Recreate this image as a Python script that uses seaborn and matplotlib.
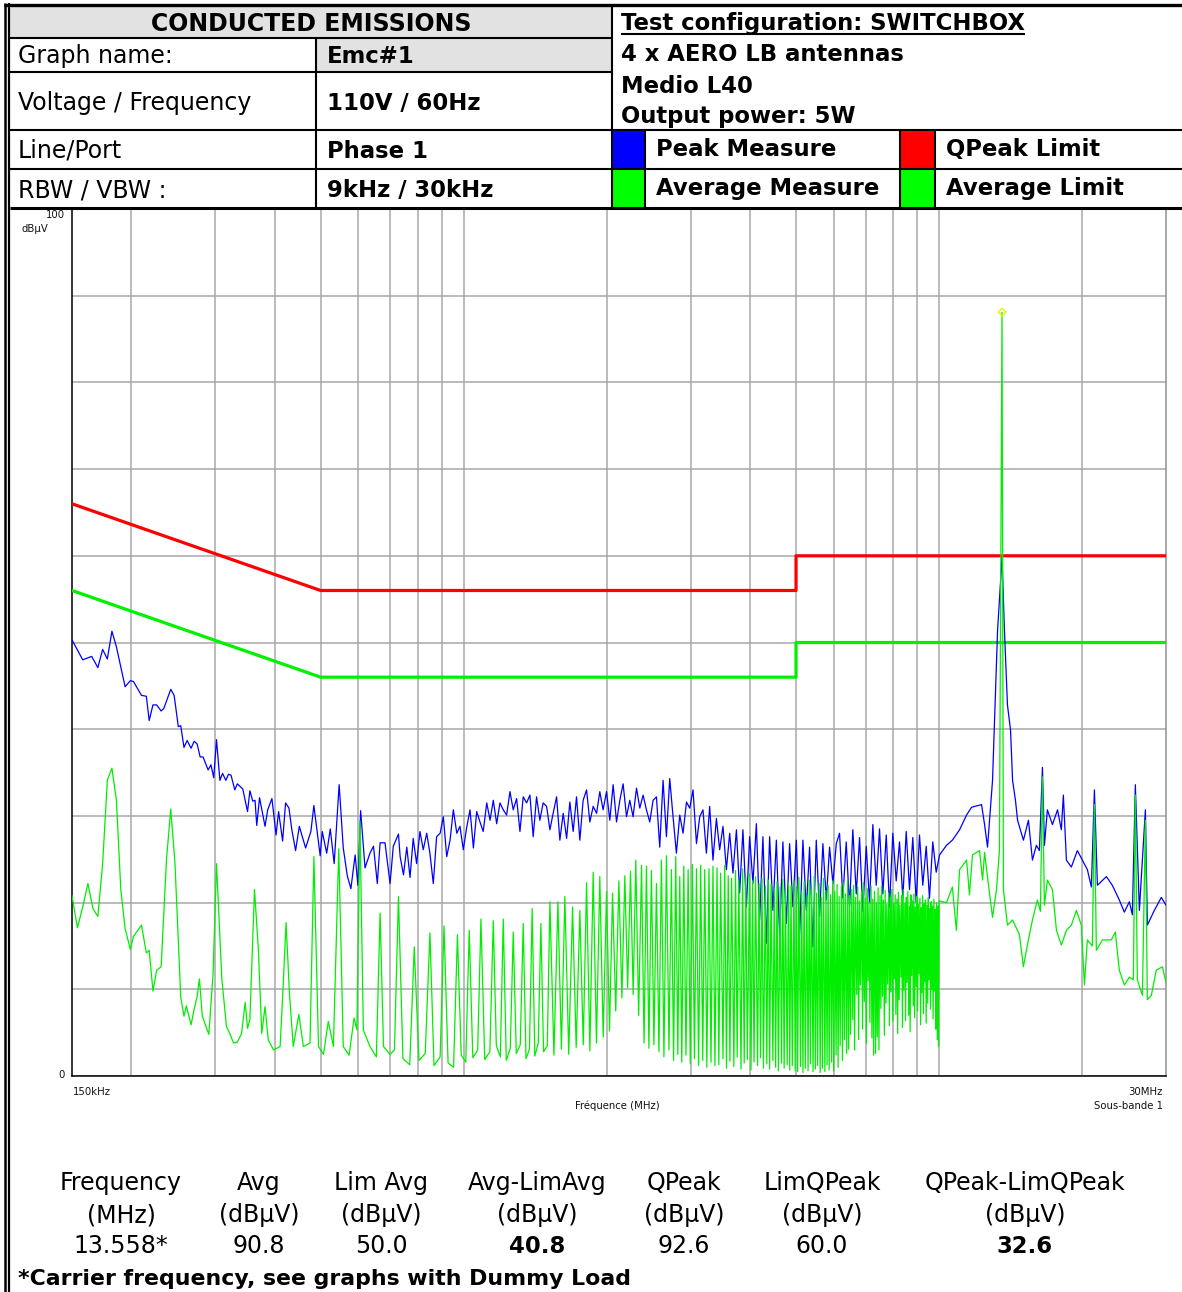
import matplotlib
matplotlib.use("Agg")
import matplotlib.pyplot as plt
import seaborn as sns
import pandas as pd
from matplotlib.patches import Rectangle
from matplotlib.lines import Line2D
from matplotlib.ticker import FixedLocator, NullFormatter

# ---------------- data ----------------
# CISPR limit lines
qpeak_limit_freq_mhz = [0.15, 0.5, 5.0, 5.0, 30.0]
qpeak_limit_dbuv = [66.0, 56.0, 56.0, 60.0, 60.0]
avg_limit_freq_mhz = [0.15, 0.5, 5.0, 5.0, 30.0]
avg_limit_dbuv = [56.0, 46.0, 46.0, 50.0, 50.0]

# Peak measure (blue)
peak_f1 = [0.150, 0.158, 0.165, 0.170, 0.174, 0.178, 0.182, 0.186, 0.194, 0.199,
           0.202, 0.210, 0.215, 0.218, 0.222, 0.226, 0.231, 0.234, 0.242, 0.246,
           0.251, 0.254, 0.258, 0.262, 0.267, 0.271, 0.275, 0.279, 0.283, 0.290,
           0.294, 0.298, 0.302, 0.307, 0.311, 0.316, 0.320, 0.324, 0.330, 0.334]
peak_db1 = [50.3, 48.0, 48.4, 47.1, 49.2, 48.1, 51.3, 49.5, 44.9, 45.6,
            45.5, 43.9, 43.8, 41.0, 42.8, 42.8, 42.1, 42.4, 44.6, 43.9,
            40.3, 40.4, 37.9, 38.7, 37.8, 38.6, 38.3, 36.8, 36.8, 35.3,
            35.9, 34.4, 38.8, 34.1, 34.9, 34.1, 34.8, 34.7, 33.0, 33.7]
peak_f2 = [0.343, 0.351, 0.355, 0.360, 0.364, 0.367, 0.372, 0.382, 0.387, 0.395,
           0.403, 0.408, 0.416, 0.422, 0.429, 0.435, 0.443, 0.451, 0.465, 0.477,
           0.484, 0.499, 0.504, 0.515, 0.524, 0.534, 0.547, 0.558, 0.569, 0.579,
           0.591, 0.599, 0.607, 0.620, 0.635, 0.646, 0.658, 0.667, 0.683, 0.700,
           0.711, 0.729]
peak_db2 = [33.1, 30.5, 32.9, 31.7, 31.8, 28.9, 32.1, 28.8, 30.7, 32.0,
            27.8, 30.5, 27.1, 31.5, 30.9, 28.4, 26.0, 28.8, 26.3, 28.2,
            31.2, 25.4, 28.2, 25.7, 28.5, 24.5, 33.6, 26.3, 23.1, 21.6,
            25.5, 22.0, 30.6, 24.0, 25.7, 26.5, 22.2, 26.9, 26.9, 22.2,
            26.5, 27.9]
peak_f3 = [0.735, 0.747, 0.759, 0.771, 0.783, 0.796,
           0.809, 0.822, 0.836, 0.849, 0.863, 0.877,
           0.892, 0.906, 0.921, 0.936, 0.951, 0.967,
           0.982, 0.998, 1.014, 1.031, 1.048, 1.065,
           1.082, 1.099, 1.118, 1.136, 1.154, 1.173,
           1.192, 1.211, 1.231, 1.251, 1.271, 1.292,
           1.313, 1.334, 1.356, 1.378, 1.400, 1.423,
           1.446, 1.469, 1.494, 1.518, 1.542, 1.568,
           1.593, 1.619, 1.646, 1.672, 1.699, 1.727,
           1.755, 1.783, 1.813, 1.842, 1.872, 1.903]
peak_db3 = [25.3, 23.2, 26.4, 22.9, 27.4, 24.5,
            28.2, 26.1, 28.0, 25.7, 22.2, 27.6,
            28.0, 29.9, 25.3, 27.2, 30.7, 28.0,
            28.8, 26.1, 28.6, 30.7, 26.3, 30.5,
            29.3, 28.2, 31.5, 29.5, 31.8, 29.1,
            31.5, 30.7, 30.1, 32.8, 30.7, 32.0,
            28.2, 32.2, 31.5, 32.4, 27.6, 32.2,
            29.5, 31.5, 31.1, 28.4, 30.3, 32.2,
            27.2, 30.3, 27.4, 31.6, 28.2, 32.2,
            27.2, 31.8, 33.0, 29.3, 31.1, 30.3]
peak_f4 = [1.933, 1.964, 1.997, 2.029, 2.062, 2.096,
           2.130, 2.164, 2.200, 2.235, 2.271, 2.309,
           2.346, 2.384, 2.423, 2.462, 2.502, 2.543,
           2.584, 2.626, 2.669, 2.712, 2.756, 2.801,
           2.847, 2.893, 2.941, 2.988, 3.036, 3.087,
           3.136, 3.186, 3.239, 3.291, 3.344, 3.400,
           3.454, 3.510, 3.568, 3.626, 3.684, 3.746,
           3.805, 3.866, 3.931, 3.994, 4.058, 4.126,
           4.192, 4.259, 4.330, 4.400, 4.471, 4.545,
           4.618, 4.692, 4.770, 4.847, 4.925, 5.007]
peak_db4 = [32.8, 30.7, 32.8, 29.5, 33.6, 29.3,
            31.8, 33.7, 29.9, 31.8, 29.9, 33.2,
            30.9, 32.4, 30.7, 29.3, 31.8, 32.2,
            26.4, 34.1, 27.6, 34.3, 29.9, 25.7,
            30.1, 28.0, 31.6, 30.9, 33.0, 26.8,
            29.9, 30.7, 25.7, 31.1, 24.9, 29.7,
            26.1, 28.8, 23.8, 28.0, 23.4, 28.4,
            21.1, 28.4, 19.5, 27.6, 22.2, 29.1,
            18.0, 27.6, 15.3, 27.6, 19.1, 27.2,
            16.1, 27.0, 17.6, 26.8, 19.5, 27.2]
peak_f5 = [5.087, 5.169, 5.255, 5.339, 5.425, 5.515,
           5.604, 5.694, 5.789, 5.882, 5.977, 6.076,
           6.173, 6.272, 6.376, 6.479, 6.583, 6.693,
           6.801, 6.910, 7.025, 7.138, 7.253, 7.373,
           7.492, 7.613, 7.739, 7.863, 7.990, 8.122,
           8.253, 8.386, 8.525, 8.662, 8.801, 8.948,
           9.092, 9.238, 9.392, 9.542, 9.696, 9.857]
peak_db5 = [16.2, 27.2, 19.1, 26.4, 14.9, 27.2,
            18.4, 26.8, 20.3, 26.4, 22.2, 26.8,
            28.0, 20.5, 27.0, 19.5, 28.4, 21.0,
            27.5, 19.0, 26.5, 20.0, 29.0, 22.0,
            28.5, 21.0, 27.8, 19.5, 28.0, 22.5,
            27.0, 20.5, 28.2, 21.5, 27.5, 20.0,
            27.8, 22.0, 26.5, 20.5, 27.0, 23.5]
peak_f6 = [10.02, 10.36, 10.66, 11.04, 11.42, 11.70, 12.28, 12.46, 12.64, 12.95,
           13.27, 13.558, 13.72, 13.92, 14.13, 14.27, 14.47, 14.62, 15.04, 15.41,
           15.48, 15.71, 16.01, 16.25, 16.49, 16.65, 16.89, 17.31, 17.74, 18.07,
           18.25, 18.52, 18.97, 19.53, 20.01, 20.50, 20.90, 21.21, 21.52, 22.48,
           23.13, 23.93, 24.52, 25.12, 25.49, 25.86, 26.37, 27.15, 27.41, 28.35,
           29.33, 30.0]
peak_db6 = [25.5, 26.6, 27.2, 28.4, 30.1, 31.0, 31.3, 29.0, 26.4, 34.1,
            51.4, 59.8, 51.4, 42.8, 39.9, 34.1, 31.8, 29.5, 27.2, 29.5,
            28.4, 24.9, 26.6, 26.0, 35.6, 26.6, 30.7, 29.0, 30.7, 28.4,
            32.4, 24.9, 24.1, 26.0, 24.9, 23.8, 21.8, 33.0, 22.0, 23.0,
            22.0, 20.3, 18.9, 20.1, 18.6, 33.6, 19.1, 30.7, 17.4, 19.1,
            20.6, 19.7]

# Average measure (green)
avg_f1 = [0.150, 0.154, 0.158, 0.162, 0.166, 0.170, 0.174, 0.178, 0.182, 0.186,
          0.190, 0.194, 0.199, 0.202, 0.210, 0.215, 0.218, 0.222, 0.226, 0.231,
          0.234, 0.237, 0.242, 0.247, 0.254, 0.258, 0.261, 0.267, 0.271, 0.275,
          0.278, 0.282, 0.291, 0.297, 0.302, 0.310, 0.317, 0.322, 0.328, 0.334]
avg_db1 = [20.8, 17.1, 19.5, 22.2, 19.3, 18.4, 24.5, 34.1, 35.5, 31.8,
           21.5, 17.0, 14.6, 16.1, 17.4, 14.2, 14.5, 9.8, 12.2, 12.6,
           18.8, 24.9, 30.8, 24.5, 9.1, 6.9, 8.1, 5.9, 7.7, 9.2,
           11.2, 6.9, 4.8, 11.8, 24.5, 11.1, 5.7, 4.9, 3.8, 3.9]
avg_f2 = [0.341, 0.347, 0.351, 0.355, 0.363, 0.370, 0.376, 0.382, 0.388, 0.398,
          0.411, 0.417, 0.423, 0.430, 0.438, 0.450, 0.460, 0.475, 0.484, 0.495,
          0.507, 0.519, 0.532, 0.546, 0.558, 0.574, 0.588, 0.596, 0.605, 0.615,
          0.635, 0.655, 0.667, 0.678, 0.700, 0.715, 0.729]
avg_db2 = [4.9, 8.5, 5.5, 6.5, 21.5, 14.5, 4.9, 8.0, 4.2, 3.0,
           3.4, 10.3, 17.7, 9.5, 3.4, 7.1, 3.4, 3.8, 25.3, 3.4,
           2.5, 6.3, 3.4, 26.2, 3.4, 2.4, 6.7, 5.3, 29.4, 5.3,
           3.4, 2.2, 18.8, 3.4, 2.5, 3.0, 20.7]
avg_f3 = [0.745, 0.770, 0.787, 0.805, 0.830, 0.849,
          0.866, 0.892, 0.909, 0.927, 0.952, 0.970,
          0.988, 1.010, 1.027, 1.045, 1.070, 1.087,
          1.107, 1.135, 1.154, 1.171, 1.194, 1.211,
          1.229, 1.253, 1.271, 1.290, 1.315, 1.334,
          1.352, 1.375, 1.393, 1.411, 1.435, 1.453,
          1.472, 1.499, 1.518]
avg_db3 = [2.0, 1.3, 14.9, 1.8, 2.6, 16.5,
           1.2, 2.2, 17.3, 1.5, 1.0, 16.3,
           2.4, 1.6, 16.8, 2.1, 3.0, 18.1,
           1.9, 2.8, 17.9, 3.5, 2.2, 18.1,
           1.8, 3.2, 16.6, 2.6, 3.6, 17.6,
           2.0, 3.1, 19.3, 2.3, 3.8, 17.6,
           2.8, 3.5, 20.1]
avg_f4 = [1.548, 1.578, 1.605, 1.632, 1.663, 1.694, 1.724, 1.755,
          1.784, 1.813, 1.842, 1.872, 1.902, 1.933, 1.965, 1.997,
          2.026, 2.056, 2.088, 2.120, 2.151, 2.182, 2.212, 2.243,
          2.272, 2.301, 2.333, 2.366, 2.395, 2.423, 2.452, 2.482,
          2.512, 2.543, 2.574, 2.605, 2.637, 2.669, 2.702, 2.734,
          2.763, 2.792, 2.820, 2.847, 2.875, 2.903, 2.934, 2.965,
          2.996, 3.027, 3.057, 3.087, 3.119, 3.151, 3.182, 3.213,
          3.246, 3.280, 3.312, 3.344, 3.376]
avg_db4 = [2.4, 20.1, 3.1, 20.7, 2.5, 19.5, 3.3, 19.1,
           3.6, 22.3, 2.9, 23.5, 3.8, 23.0, 4.5, 21.3,
           5.2, 21.1, 7.5, 22.5, 9.0, 23.1, 10.2, 23.6,
           9.4, 24.9, 7.0, 24.3, 3.8, 24.2, 3.2, 23.7,
           3.6, 22.2, 2.8, 24.9, 2.2, 25.4, 3.0, 23.8,
           1.8, 25.3, 2.5, 23.0, 1.6, 24.2, 2.4, 23.8,
           1.4, 24.4, 2.0, 23.9, 1.2, 24.3, 1.8, 23.8,
           1.0, 23.9, 1.6, 24.2, 1.2]
avg_f5 = [3.41, 3.44, 3.47, 3.51, 3.54, 3.57, 3.60, 3.63, 3.66, 3.70,
          3.73, 3.76, 3.79, 3.83, 3.86, 3.89, 3.92, 3.95, 3.99, 4.02,
          4.05, 4.08, 4.11, 4.15, 4.18, 4.21, 4.24, 4.27, 4.31, 4.34,
          4.37, 4.40, 4.43, 4.47, 4.50, 4.53, 4.56, 4.59, 4.63, 4.66,
          4.69, 4.72, 4.75, 4.79, 4.82, 4.85, 4.88, 4.91, 4.95, 4.98]
avg_db5 = [24.0, 1.3, 23.4, 2.0, 24.3, 0.9, 23.1, 1.7, 22.8, 1.1,
           23.7, 2.2, 22.6, 0.8, 23.9, 1.5, 22.9, 1.9, 23.3, 0.7,
           22.5, 1.6, 23.0, 1.2, 22.2, 2.1, 22.8, 0.9, 21.9, 1.4,
           22.6, 0.8, 22.1, 1.8, 21.6, 1.0, 22.4, 0.6, 21.8, 1.5,
           22.7, 0.9, 21.5, 1.3, 22.3, 0.7, 21.9, 1.2, 22.5, 0.6]
avg_f6 = [5.01, 5.04, 5.07, 5.11, 5.14, 5.17, 5.20, 5.23, 5.27, 5.30,
          5.33, 5.36, 5.39, 5.43, 5.46, 5.49, 5.52, 5.55, 5.59, 5.62,
          5.65, 5.68, 5.71, 5.75, 5.78, 5.81, 5.84, 5.87, 5.91, 5.94,
          5.97, 6.00, 6.03, 6.07, 6.10, 6.13, 6.16, 6.19, 6.23, 6.26,
          6.29, 6.32, 6.35, 6.39, 6.42, 6.45, 6.48, 6.51]
avg_db6 = [21.8, 0.5, 22.9, 1.1, 21.2, 0.4, 22.4, 0.9, 20.8, 0.6,
           22.6, 1.4, 21.5, 0.5, 23.0, 0.8, 21.1, 1.2, 22.2, 0.4,
           20.6, 0.9, 22.8, 0.5, 21.4, 1.3, 22.0, 0.7, 20.9, 1.6,
           22.5, 0.6, 21.3, 2.4, 22.1, 1.0, 20.7, 3.5, 21.9, 1.8,
           22.3, 4.2, 21.0, 2.6, 22.6, 3.1, 20.8, 4.8]
avg_f7 = [6.55, 6.58, 6.61, 6.64, 6.67, 6.71, 6.74, 6.77, 6.80, 6.83,
          6.87, 6.90, 6.93, 6.96, 6.99, 7.03, 7.06, 7.09, 7.12, 7.15,
          7.19, 7.22, 7.25, 7.28, 7.31, 7.35, 7.38, 7.41, 7.44, 7.47,
          7.51, 7.54, 7.57, 7.60, 7.63, 7.67, 7.70, 7.73, 7.76, 7.79,
          7.83, 7.86, 7.89, 7.92, 7.95, 7.99, 8.02, 8.05, 8.08, 8.11]
avg_db7 = [21.5, 6.5, 22.0, 3.0, 20.6, 9.4, 21.8, 4.2, 20.2, 10.5,
           21.2, 5.4, 22.3, 8.6, 20.5, 3.8, 21.6, 11.0, 20.1, 6.2,
           21.9, 4.4, 20.4, 2.4, 21.3, 2.6, 20.0, 4.5, 21.7, 3.0,
           20.8, 7.8, 21.9, 9.2, 20.3, 4.7, 21.4, 8.4, 19.8, 10.6,
           21.1, 5.8, 20.6, 9.7, 21.5, 6.3, 19.9, 11.2, 20.9, 7.1]
avg_f8 = [8.15, 8.18, 8.21, 8.24, 8.27, 8.31, 8.34, 8.37, 8.40, 8.43,
          8.47, 8.50, 8.53, 8.56, 8.59, 8.63, 8.66, 8.69, 8.72, 8.75,
          8.79, 8.82, 8.85, 8.88, 8.91, 8.95, 8.98, 9.01, 9.04, 9.07,
          9.11, 9.14, 9.17, 9.20, 9.23, 9.27, 9.30, 9.33, 9.36, 9.39,
          9.43, 9.46, 9.49, 9.52, 9.55, 9.59, 9.62, 9.65, 9.68, 9.71,
          9.75, 9.78, 9.81, 9.84, 9.87, 9.91, 9.94, 9.97, 10.00]
avg_db8 = [20.4, 4.9, 21.2, 8.8, 19.7, 11.4, 20.8, 5.6, 21.5, 9.9,
           19.9, 6.4, 20.6, 10.8, 21.3, 7.0, 19.6, 5.1, 20.9, 11.6,
           20.2, 8.1, 21.0, 6.7, 19.5, 10.3, 20.7, 7.5, 19.8, 11.8,
           20.5, 5.9, 19.4, 9.6, 20.8, 7.2, 19.9, 10.9, 20.3, 6.1,
           19.7, 8.4, 20.6, 11.1, 19.3, 7.7, 20.1, 10.0, 19.6, 6.6,
           20.4, 9.8, 19.2, 5.4, 20.0, 4.2, 19.6, 3.4, 20.2]
avg_f9 = [10.36, 10.66, 10.87, 11.04, 11.42, 11.58, 11.75, 12.16, 12.34, 12.46,
          12.70, 12.95, 13.20, 13.39, 13.558, 13.65, 13.92, 14.27, 14.75, 15.04,
          15.33, 15.71, 16.09, 16.33, 16.49, 16.65, 16.89, 17.31, 17.65, 18.07,
          18.52, 18.97, 19.44, 19.91, 20.21, 20.50, 21.00, 21.21, 21.41, 22.05,
          23.02, 23.47, 23.93, 24.52, 25.12, 25.61, 25.86, 26.11, 26.76, 27.15,
          27.41, 27.94, 28.62, 29.47, 30.0]
avg_db9 = [20.0, 21.8, 16.8, 23.8, 24.9, 20.9, 25.5, 26.0, 22.6, 25.8,
           22.0, 18.3, 21.5, 26.0, 88.1, 21.5, 17.4, 18.0, 16.3, 12.6,
           15.1, 18.0, 20.3, 19.0, 34.5, 19.7, 22.6, 21.5, 16.8, 15.1,
           16.8, 17.4, 19.1, 17.4, 10.5, 15.7, 15.0, 31.3, 14.5, 15.7,
           15.7, 16.6, 12.2, 10.5, 11.4, 11.1, 32.4, 11.1, 9.3, 29.5,
           8.8, 9.3, 12.2, 12.6, 10.8]

carrier_freq_mhz = [13.558]
carrier_dbuv = [88.1]

# table texts
result_headers = ["Frequency", "Avg", "Lim Avg", "Avg-LimAvg", "QPeak", "LimQPeak", "QPeak-LimQPeak"]
result_units = ["(MHz)", "(dBµV)", "(dBµV)", "(dBµV)", "(dBµV)", "(dBµV)", "(dBµV)"]
result_values = ["13.558*", "90.8", "50.0", "40.8", "92.6", "60.0", "32.6"]
result_bold = [False, False, False, True, False, False, True]

grid_freqs_mhz = [0.2, 0.3, 0.4, 0.5, 0.6, 0.7, 0.8, 0.9, 1, 2, 3, 4, 5, 6, 7, 8, 9, 10, 20]
grid_levels = [0, 10, 20, 30, 40, 50, 60, 70, 80, 90, 100]

# ---------------- assemble ----------------
def join(parts):
    out = []
    for p in parts:
        out.extend(p)
    return out

peak_freq = join([peak_f1, peak_f2, peak_f3, peak_f4, peak_f5, peak_f6])
peak_lvl = join([peak_db1, peak_db2, peak_db3, peak_db4, peak_db5, peak_db6])
avg_freq = join([avg_f1, avg_f2, avg_f3, avg_f4, avg_f5, avg_f6, avg_f7, avg_f8, avg_f9])
avg_lvl = join([avg_db1, avg_db2, avg_db3, avg_db4, avg_db5, avg_db6, avg_db7, avg_db8, avg_db9])

peak_df = pd.DataFrame({"freq": peak_freq, "level": peak_lvl})
avg_df = pd.DataFrame({"freq": avg_freq, "level": avg_lvl})
qp_df = pd.DataFrame({"freq": qpeak_limit_freq_mhz, "level": qpeak_limit_dbuv})
al_df = pd.DataFrame({"freq": avg_limit_freq_mhz, "level": avg_limit_dbuv})
car_df = pd.DataFrame({"freq": carrier_freq_mhz, "level": carrier_dbuv})

# ---------------- figure ----------------
W, H = 1182, 1292
sns.set_theme(style="white")
plt.rcParams['font.family'] = ['DejaVu Sans']
plt.rcParams['text.color'] = 'black'

fig = plt.figure(figsize=(W / 100, H / 100), dpi=100)
fig.patch.set_facecolor("white")


def fx(px):
    return px / W


def fy(py):
    return 1 - py / H


ax = fig.add_axes([fx(72), fy(1076), fx(1166) - fx(72), fy(209) - fy(1076)])
ax.set_facecolor("white")

sns.lineplot(data=qp_df, x="freq", y="level", ax=ax, sort=False, estimator=None,
             color="#ff0000", lw=2.3, zorder=3)
sns.lineplot(data=al_df, x="freq", y="level", ax=ax, sort=False, estimator=None,
             color="#00f000", lw=2.3, zorder=3)
sns.lineplot(data=peak_df, x="freq", y="level", ax=ax, sort=False, estimator=None,
             color="#0000ff", lw=0.9, zorder=4)
sns.lineplot(data=avg_df, x="freq", y="level", ax=ax, sort=False, estimator=None,
             color="#00ee00", lw=0.9, zorder=5)
sns.scatterplot(data=car_df, x="freq", y="level", ax=ax, marker="D", s=16,
                facecolor="none", edgecolor="#f0f000", linewidth=1.0, zorder=6)

ax.set_xscale("log")
ax.set_xlim(0.15, 30)
ax.set_ylim(0, 100)
ax.xaxis.set_major_locator(FixedLocator(grid_freqs_mhz))
ax.xaxis.set_major_formatter(NullFormatter())
ax.xaxis.set_minor_locator(FixedLocator([0.15, 30]))
ax.xaxis.set_minor_formatter(NullFormatter())
ax.yaxis.set_major_locator(FixedLocator(grid_levels))
ax.yaxis.set_major_formatter(NullFormatter())
ax.yaxis.set_minor_locator(FixedLocator([0]))
ax.tick_params(axis="both", which="major", length=0)
ax.tick_params(axis="both", which="minor", length=5, width=1.0, color="black", direction="out")
ax.grid(True, which="major", color="#a8a8a8", lw=1.1)
ax.set_xlabel("")
ax.set_ylabel("")
for side in ["left", "bottom"]:
    ax.spines[side].set_color("black")
    ax.spines[side].set_linewidth(1.1)
ax.spines["top"].set_visible(False)
ax.spines["right"].set_color("#909090")
ax.spines["right"].set_linewidth(1.1)

small = dict(fontsize=7.3, color="#111111")
fig.text(fx(65), fy(215), "100", ha="right", va="center", **small)
fig.text(fx(21), fy(229), "dBµV", ha="left", va="center", **small)
fig.text(fx(65), fy(1075), "0", ha="right", va="center", **small)
fig.text(fx(73), fy(1092), "150kHz", ha="left", va="center", **small)
fig.text(fx(1163), fy(1092), "30MHz", ha="right", va="center", **small)
fig.text(fx(1163), fy(1106), "Sous-bande 1", ha="right", va="center", **small)
fig.text(fx(617), fy(1106), "Fréquence (MHz)", ha="center", va="center", **small)

# ---------------- header table ----------------
def rect(x0, y0, x1, y1, color):
    fig.add_artist(Rectangle((fx(x0), fy(y1)), fx(x1) - fx(x0), fy(y0) - fy(y1),
                             transform=fig.transFigure, facecolor=color,
                             edgecolor="none", zorder=1))


def line(x0, y0, x1, y1, lw=1.5, color="black"):
    fig.add_artist(Line2D([fx(x0), fx(x1)], [fy(y0), fy(y1)], transform=fig.transFigure,
                          color=color, lw=lw, zorder=3, solid_capstyle="butt"))


gray = "#e2e2e2"
rect(10, 5, 612, 38, gray)
rect(316, 38, 612, 71, gray)
rect(613, 131, 645, 168, "#0000ff")
rect(901, 131, 935, 168, "#ff0000")
rect(613, 170, 645, 207, "#00ff00")
rect(901, 170, 935, 207, "#00ff00")

line(4, 4.5, 1182, 4.5, lw=2.4)
line(10, 38, 612, 38)
line(10, 72, 612, 72)
line(10, 130, 1182, 130)
line(10, 169, 1182, 169)
line(10, 208, 1182, 208, lw=2.2)
line(316, 38, 316, 208)
line(612, 4, 612, 208)
line(645, 130, 645, 208)
line(900, 130, 900, 208)
line(935, 130, 935, 208)
# left double border
line(5, 3, 5, 1292, lw=1.8)
line(9.5, 3, 9.5, 1292, lw=1.6)

FS = 17
FSB = 16.4
fig.text(fx(311), fy(31), "CONDUCTED EMISSIONS", ha="center", va="baseline",
         fontsize=FS, fontweight="bold")
left_rows = [("Graph name:", "Emc#1", 63), ("Voltage / Frequency", "110V / 60Hz", 110),
             ("Line/Port", "Phase 1", 158), ("RBW / VBW :", "9kHz / 30kHz", 197)]
for lab, val, yb in left_rows:
    fig.text(fx(18), fy(yb), lab, ha="left", va="baseline", fontsize=FS)
    fig.text(fx(327), fy(yb), val, ha="left", va="baseline", fontsize=FSB, fontweight="bold")

t_cfg = fig.text(fx(621), fy(30), "Test configuration: SWITCHBOX", ha="left", va="baseline",
                 fontsize=FSB, fontweight="bold")
fig.text(fx(621), fy(61), "4 x AERO LB antennas", ha="left", va="baseline", fontsize=FSB, fontweight="bold")
fig.text(fx(621), fy(93), "Medio L40", ha="left", va="baseline", fontsize=FSB, fontweight="bold")
fig.text(fx(621), fy(123), "Output power: 5W", ha="left", va="baseline", fontsize=FSB, fontweight="bold")
fig.text(fx(656), fy(156), "Peak Measure", ha="left", va="baseline", fontsize=FSB, fontweight="bold")
fig.text(fx(946), fy(156), "QPeak Limit", ha="left", va="baseline", fontsize=FSB, fontweight="bold")
fig.text(fx(656), fy(195), "Average Measure", ha="left", va="baseline", fontsize=FSB, fontweight="bold")
fig.text(fx(946), fy(195), "Average Limit", ha="left", va="baseline", fontsize=FSB, fontweight="bold")

fig.canvas.draw()
bb = t_cfg.get_window_extent(renderer=fig.canvas.get_renderer())
line(bb.x0, 33.5, bb.x1, 33.5, lw=1.5)

# ---------------- results table ----------------
col_x = [121, 259, 381, 537, 684, 822, 1025]
for cx, hd, un, vl, bd in zip(col_x, result_headers, result_units, result_values, result_bold):
    fig.text(fx(cx), fy(1190), hd, ha="center", va="baseline", fontsize=FS)
    fig.text(fx(cx), fy(1222), un, ha="center", va="baseline", fontsize=FS)
    fig.text(fx(cx), fy(1253), vl, ha="center", va="baseline",
             fontsize=FSB if bd else FS, fontweight="bold" if bd else "normal")
fig.text(fx(18), fy(1285), "*Carrier frequency, see graphs with Dummy Load", ha="left",
         va="baseline", fontsize=15.8, fontweight="bold")

fig.savefig("out.png", dpi=100)
